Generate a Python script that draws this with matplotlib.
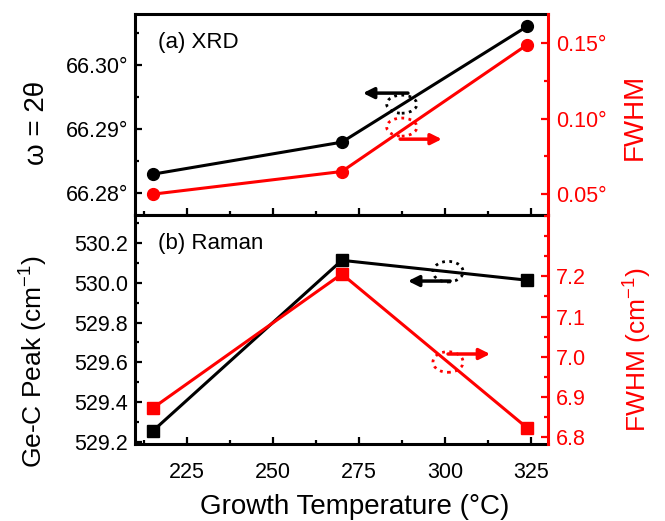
import matplotlib
matplotlib.use("Agg")
import matplotlib.pyplot as plt
from matplotlib.ticker import MultipleLocator, FixedLocator, FuncFormatter
from matplotlib.patches import Ellipse

plt.rcParams['font.family'] = ['Liberation Sans', 'DejaVu Sans']
plt.rcParams['mathtext.default'] = 'regular'

# Data
temps = [215, 270, 324]
xrd_omega = [66.2830, 66.2880, 66.3061]
xrd_fwhm = [0.050, 0.065, 0.149]
raman_peak = [529.255, 530.113, 530.013]
raman_fwhm = [6.872, 7.206, 6.822]
raman_fwhm_ticks = [6.8, 6.9, 7.0, 7.1, 7.2]

fig = plt.figure(figsize=(6.65, 5.21), dpi=100)
ax1 = fig.add_axes([0.203, 0.587, 0.621, 0.386])
ax2 = fig.add_axes([0.203, 0.148, 0.621, 0.439], sharex=ax1)
tw1 = ax1.twinx()
tw2 = ax2.twinx()

TICK_FS = 15.5
LABEL_FS = 20
RED = '#ff0000'

# top panel: XRD
ax1.plot(temps, xrd_omega, '-o', color='black', lw=2.2, ms=8.5, zorder=3)
tw1.plot(temps, xrd_fwhm, '-o', color=RED, lw=2.2, ms=8.5, zorder=3)
ax1.set_xlim(209.8, 330)
ax1.set_ylim(66.2766, 66.3080)
tw1.set_ylim(0.0361, 0.1692)
ax1.yaxis.set_major_locator(MultipleLocator(0.01))
ax1.yaxis.set_minor_locator(MultipleLocator(0.005))
ax1.yaxis.set_major_formatter(FuncFormatter(lambda v, p: f'{v:.2f}°'))
tw1.yaxis.set_major_locator(MultipleLocator(0.05))
tw1.yaxis.set_minor_locator(MultipleLocator(0.025))
tw1.yaxis.set_major_formatter(FuncFormatter(lambda v, p: f'{v:.2f}°'))
ax1.set_ylabel('ω = 2θ', fontsize=LABEL_FS)
tw1.set_ylabel('FWHM', fontsize=LABEL_FS, color=RED)
ax1.text(0.056, 0.861, '(a) XRD', transform=ax1.transAxes, fontsize=16, va='center')
plt.setp(ax1.get_xticklabels(), visible=False)

# bottom panel: Raman
ax2.plot(temps, raman_peak, '-s', color='black', lw=2.2, ms=8.3, zorder=3)
tw2.plot(temps, raman_fwhm, '-s', color=RED, lw=2.2, ms=8.3, zorder=3)
ax2.set_ylim(529.19, 530.34)
tw2.set_ylim(6.7826, 7.3525)
ax2.yaxis.set_major_locator(MultipleLocator(0.2))
ax2.yaxis.set_minor_locator(MultipleLocator(0.1))
ax2.yaxis.set_major_formatter(FuncFormatter(lambda v, p: f'{v:.1f}'))
tw2.yaxis.set_major_locator(FixedLocator(raman_fwhm_ticks))
tw2.yaxis.set_minor_locator(MultipleLocator(0.05))
tw2.yaxis.set_major_formatter(FuncFormatter(lambda v, p: f'{v:.1f}'))
ax2.set_ylabel('Ge-C Peak (cm$^{-1}$)', fontsize=19)
tw2.set_ylabel('FWHM (cm$^{-1}$)', fontsize=19, color=RED)
ax2.set_xlabel('Growth Temperature (°C)', fontsize=LABEL_FS, labelpad=8)
ax2.xaxis.label.set_x(0.533)
ax2.text(0.056, 0.878, '(b) Raman', transform=ax2.transAxes, fontsize=16, va='center')
ax2.xaxis.set_major_locator(MultipleLocator(25))
ax2.xaxis.set_minor_locator(MultipleLocator(12.5))

for a in (ax1, ax2):
    a.tick_params(which='both', direction='in', labelsize=TICK_FS, width=1.6, pad=5)
    a.tick_params(which='major', length=5)
    a.tick_params(which='minor', length=3)
    for s in ('left', 'bottom', 'top'):
        a.spines[s].set_linewidth(2.2)
    a.spines['right'].set_visible(False)
ax2.tick_params(axis='x', which='both', pad=13)
ax1.yaxis.set_label_coords(-0.205, 0.46)
ax2.yaxis.set_label_coords(-0.205, 0.36)
for t in (tw1, tw2):
    t.tick_params(which='both', direction='in', labelsize=TICK_FS, width=1.6,
                  color=RED, labelcolor=RED, pad=6)
    t.tick_params(which='major', length=5)
    t.tick_params(which='minor', length=3)
    t.spines['right'].set_color(RED)
    t.spines['right'].set_linewidth(2.2)
    for s in ('left', 'bottom', 'top'):
        t.spines[s].set_visible(False)
tw1.yaxis.set_label_coords(1.178, 0.49)
tw2.yaxis.set_label_coords(1.178, 0.41)

# arrows and dotted circles marking which axis each curve belongs to
def marker(ax, cx, cy, color, x0, x1, ay):
    ax.add_patch(Ellipse((cx, cy), 0.073, 0.09, transform=ax.transAxes, fill=False,
                         edgecolor=color, lw=2, linestyle=(0, (1, 1.6)), zorder=4))
    ax.annotate('', xy=(x1, ay), xytext=(x0, ay), xycoords='axes fraction',
                arrowprops=dict(arrowstyle='-|>', color=color, lw=2.5,
                                mutation_scale=16, shrinkA=0, shrinkB=0), zorder=4)

marker(tw1, 0.646, 0.552, 'black', 0.661, 0.552, 0.607)
marker(tw1, 0.646, 0.438, RED, 0.642, 0.743, 0.378)
marker(tw2, 0.758, 0.753, 'black', 0.763, 0.661, 0.712)
marker(tw2, 0.758, 0.358, RED, 0.758, 0.860, 0.393)

fig.savefig('out.png', dpi=100)
